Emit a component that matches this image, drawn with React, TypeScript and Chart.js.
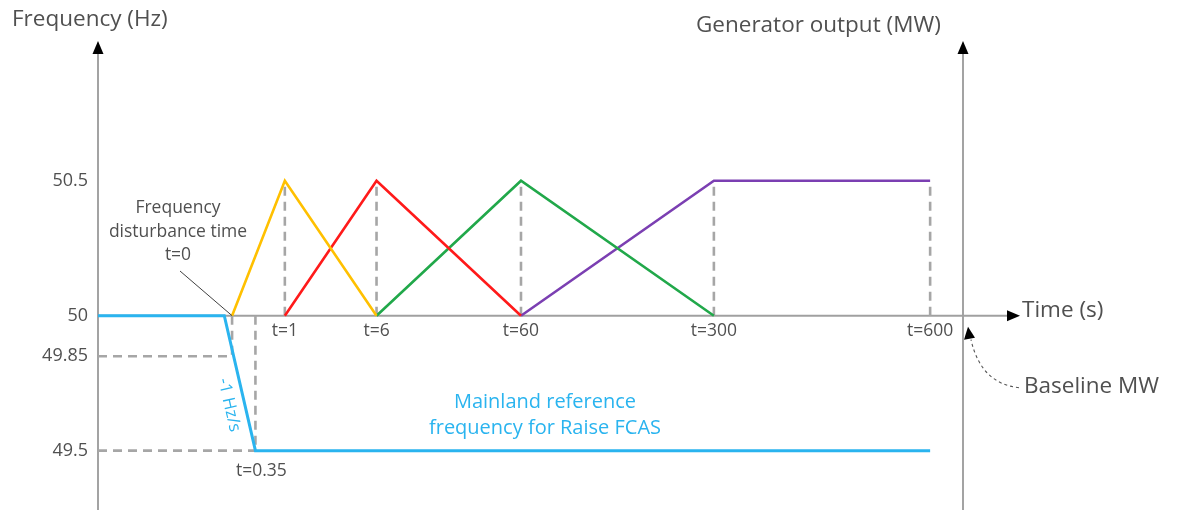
import React, { useEffect, useRef } from 'react';
import { Chart, registerables } from 'chart.js';

Chart.register(...registerables);

// ---- Data -------------------------------------------------------------
// Time marks on the (schematic, not-to-scale) time axis
const timeMarks = [0, 0.35, 1, 6, 60, 300, 600];
const timeMarkLabels = ['t=0', 't=0.35', 't=1', 't=6', 't=60', 't=300', 't=600'];
// schematic axis position of each time mark (0 = frequency axis, 100 = MW axis)
const timeMarkPos = [15.5, 18.2, 21.6, 32.2, 48.9, 71.2, 96.2];

// Frequency axis tick labels (Hz)
const freqTicks = [50.5, 50, 49.85, 49.5];

// Mainland reference frequency (Hz): flat at 50, -1 Hz/s drop, then 49.5
const refFreqPos = [0, 14.6, 18.2, 96.2];
const refFreqHz = [50, 50, 49.5, 49.5];

// Generator output (per unit of enabled FCAS, 0 = baseline MW)
const fast6sTimes = [0, 1, 6];
const fast6sOut = [0, 1, 0];
const slow60sTimes = [1, 6, 60];
const slow60sOut = [0, 1, 0];
const delayed5mTimes = [6, 60, 300];
const delayed5mOut = [0, 1, 0];
const sustainedTimes = [60, 300, 600];
const sustainedOut = [0, 1, 1];

// guide verticals at the output peaks
const peakGuideTimes = [1, 6, 60, 300, 600];
// frequency guides: [time, frequency]
const freqGuides: [number, number][] = [
  [0, 49.85],
  [0.35, 49.5],
];

// ---- Helpers ----------------------------------------------------------
const posOf = (t: number) => timeMarkPos[timeMarks.indexOf(t)];

const TEXT = '#505050';
const FONT = '"Open Sans", "Noto Sans", sans-serif';
const BLUE = '#2AB4EF';
const GUIDE = '#A6A6A6';

function series(times: number[], outs: number[], color: string) {
  return {
    data: times.map((t, i) => ({ x: posOf(t), y: outs[i] })),
    borderColor: color,
    borderWidth: 2.6,
    yAxisID: 'y2',
    pointRadius: 0,
    tension: 0,
    order: 1,
  };
}

function guide(points: { x: number; y: number }[], axis: string) {
  return {
    data: points,
    borderColor: GUIDE,
    borderWidth: 2.6,
    borderDash: [9, 6],
    yAxisID: axis,
    pointRadius: 0,
    tension: 0,
    order: 5,
  };
}

const overlayPlugin = {
  id: 'overlay',
  beforeDatasetsDraw(chart: any) {
    const { ctx, chartArea, scales } = chart;
    const xL = chartArea.left;
    const xR = chartArea.right;
    const y50 = scales.y.getPixelForValue(50);
    const bottom = chart.height;
    ctx.save();
    // vertical axes
    ctx.strokeStyle = '#8C8C8C';
    ctx.lineWidth = 1.6;
    [xL, xR].forEach((x) => {
      ctx.beginPath();
      ctx.moveTo(x, bottom);
      ctx.lineTo(x, 52);
      ctx.stroke();
      ctx.fillStyle = '#000';
      ctx.beginPath();
      ctx.moveTo(x, 41);
      ctx.lineTo(x - 5.5, 54);
      ctx.lineTo(x + 5.5, 54);
      ctx.closePath();
      ctx.fill();
    });
    // horizontal time axis
    const tip = xR + 57;
    ctx.strokeStyle = '#A0A0A0';
    ctx.lineWidth = 2;
    ctx.beginPath();
    ctx.moveTo(xL, y50);
    ctx.lineTo(tip - 10, y50);
    ctx.stroke();
    ctx.fillStyle = '#000';
    ctx.beginPath();
    ctx.moveTo(tip, y50);
    ctx.lineTo(tip - 13, y50 - 5.5);
    ctx.lineTo(tip - 13, y50 + 5.5);
    ctx.closePath();
    ctx.fill();
    ctx.restore();
  },
  afterDraw(chart: any) {
    const { ctx, chartArea, scales } = chart;
    const xR = chartArea.right;
    const y50 = scales.y.getPixelForValue(50);
    const tip = xR + 57;
    ctx.save();
    ctx.textBaseline = 'middle';
    ctx.fillStyle = TEXT;
    ctx.font = `22.5px ${FONT}`;
    ctx.textAlign = 'left';
    ctx.fillText('Frequency (Hz)', 12, 20);
    ctx.fillText('Generator output (MW)', 696, 26);
    ctx.fillText('Time (s)', tip + 2, y50 - 5);
    ctx.fillText('Baseline MW', xR + 61, y50 + 71);

    // Baseline MW dashed curved arrow
    ctx.strokeStyle = '#555';
    ctx.lineWidth = 1.1;
    ctx.setLineDash([3, 3]);
    ctx.beginPath();
    ctx.moveTo(xR + 56, y50 + 72);
    ctx.quadraticCurveTo(xR + 18, y50 + 68, xR + 8, y50 + 24);
    ctx.stroke();
    ctx.setLineDash([]);
    ctx.fillStyle = '#000';
    ctx.beginPath();
    ctx.moveTo(xR + 5, y50 + 11);
    ctx.lineTo(xR + 1, y50 + 24);
    ctx.lineTo(xR + 12, y50 + 22);
    ctx.closePath();
    ctx.fill();

    // disturbance annotation
    const x0 = scales.x.getPixelForValue(posOf(0));
    ctx.fillStyle = TEXT;
    ctx.font = `17.5px ${FONT}`;
    ctx.textAlign = 'center';
    ctx.fillText('Frequency', 178, 208);
    ctx.fillText('disturbance time', 178, 232);
    ctx.fillText('t=0', 178, 255);
    ctx.strokeStyle = '#404040';
    ctx.lineWidth = 1;
    ctx.beginPath();
    ctx.moveTo(180, 271);
    ctx.lineTo(x0, y50);
    ctx.stroke();

    // t=0.35 label
    const x035 = scales.x.getPixelForValue(posOf(0.35));
    ctx.font = `17.5px ${FONT}`;
    ctx.fillText(timeMarkLabels[1], x035 + 6, scales.y.getPixelForValue(49.5) + 20);

    // blue labels
    ctx.fillStyle = BLUE;
    ctx.font = `20px ${FONT}`;
    ctx.fillText('Mainland reference', 545, 402);
    ctx.fillText('frequency for Raise FCAS', 545, 428);

    ctx.save();
    ctx.translate(229, 405);
    ctx.rotate((77 * Math.PI) / 180);
    ctx.font = `17px ${FONT}`;
    ctx.fillText('-1 Hz/s', 0, 0);
    ctx.restore();

    ctx.restore();
  },
};

export default function App() {
  const canvasRef = useRef<HTMLCanvasElement | null>(null);

  useEffect(() => {
    const canvas = canvasRef.current;
    if (!canvas) return;

    const datasets: any[] = [
      {
        data: refFreqPos.map((x, i) => ({ x, y: refFreqHz[i] })),
        borderColor: BLUE,
        borderWidth: 3,
        yAxisID: 'y',
        pointRadius: 0,
        tension: 0,
        order: 0,
      },
      series(fast6sTimes, fast6sOut, '#FFC000'),
      series(slow60sTimes, slow60sOut, '#FF1A1A'),
      series(delayed5mTimes, delayed5mOut, '#21A84A'),
      series(sustainedTimes, sustainedOut, '#7B3FB2'),
      ...peakGuideTimes.map((t) =>
        guide(
          [
            { x: posOf(t), y: 0 },
            { x: posOf(t), y: 1 },
          ],
          'y2'
        )
      ),
      ...freqGuides.map(([t, f]) =>
        guide(
          [
            { x: posOf(t), y: 50 },
            { x: posOf(t), y: f },
          ],
          'y'
        )
      ),
      ...freqGuides.map(([t, f]) =>
        guide(
          [
            { x: 0, y: f },
            { x: posOf(t), y: f },
          ],
          'y'
        )
      ),
    ];

    const chart = new Chart(canvas, {
      type: 'line',
      data: { datasets },
      plugins: [overlayPlugin],
      options: {
        animation: false,
        responsive: false,
        devicePixelRatio: 1,
        layout: { padding: { left: 0, right: 221, top: 0, bottom: 0 } },
        plugins: { legend: { display: false }, tooltip: { enabled: false } },
        scales: {
          x: {
            type: 'linear',
            min: 0,
            max: 100,
            position: { y: 50 } as any,
            grid: { display: false, drawTicks: false },
            border: { display: false },
            afterFit: (scale: any) => {
              scale.height = 0;
              scale.paddingLeft = 0;
              scale.paddingRight = 0;
              scale.paddingTop = 0;
              scale.paddingBottom = 0;
            },
            afterBuildTicks: (scale: any) => {
              scale.ticks = timeMarkPos.slice(2).map((v) => ({ value: v }));
            },
            ticks: {
              autoSkip: false,
              maxRotation: 0,
              padding: 5,
              color: TEXT,
              font: { family: FONT, size: 17.5 },
              callback: (_v: any, i: number) => timeMarkLabels[i + 2],
            },
          },
          y: {
            type: 'linear',
            position: 'left',
            min: 49.28,
            max: 51.17,
            grid: { display: false, drawTicks: false },
            border: { display: false },
            afterFit: (scale: any) => {
              scale.width = 98;
              scale.paddingTop = 0;
              scale.paddingBottom = 0;
            },
            afterBuildTicks: (scale: any) => {
              scale.ticks = freqTicks.map((v) => ({ value: v }));
            },
            ticks: {
              padding: 10,
              color: TEXT,
              font: { family: FONT, size: 18 },
              callback: (v: any) => String(v),
            },
          },
          y2: {
            type: 'linear',
            display: false,
            min: -1.44,
            max: 2.34,
          },
        },
      } as any,
    });

    return () => chart.destroy();
  }, []);

  return (
    <div style={{ position: 'absolute', left: 0, top: 0, width: 1184, height: 510, background: '#fff' }}>
      <canvas ref={canvasRef} width={1184} height={510} />
    </div>
  );
}
